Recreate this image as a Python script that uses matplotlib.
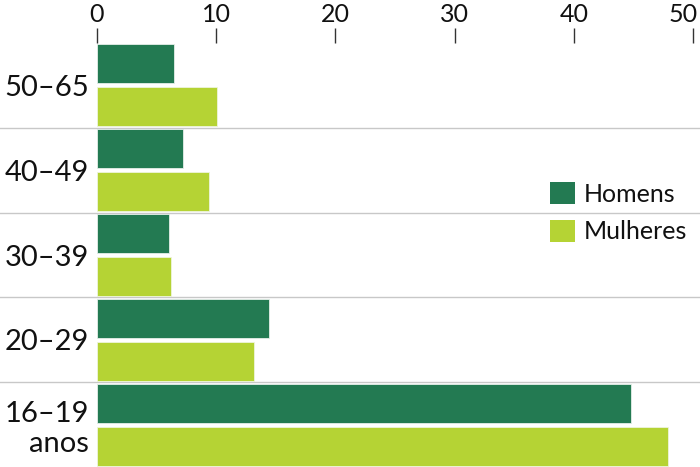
import numpy as np
import matplotlib.pyplot as plt
import matplotlib.transforms as mtransforms
from matplotlib.patches import Patch

# faixas etárias (de cima para baixo) e percentagens
faixas = ["50–65", "40–49", "30–39", "20–29", "16–19\nanos"]
homens = [6.5, 7.2, 6.0, 14.4, 44.8]
mulheres = [10.1, 9.4, 6.2, 13.2, 47.9]
ticks_x = [0, 10, 20, 30, 40, 50]

cor_h = "#237a52"
cor_m = "#b5d334"

plt.rcParams['font.family'] = ['Lato', 'DejaVu Sans']
plt.rcParams['text.color'] = '#111111'

fig = plt.figure(figsize=(7, 4.67), dpi=100)
ax = fig.add_axes([97/700, 0, 596/700, 1 - 43/467])

y = np.arange(len(faixas))
ax.barh(y - 0.253, homens, height=0.46, color=cor_h, edgecolor="#e6efe9", linewidth=0.6)
ax.barh(y + 0.253, mulheres, height=0.46, color=cor_m, edgecolor="#eef5dc", linewidth=0.6)

ax.set_xlim(0, 50)
ax.set_ylim(len(faixas) - 0.5, -0.5)
ax.set_xticks(ticks_x)
ax.xaxis.tick_top()
ax.tick_params(axis='x', direction='out', length=11, width=1, color="#333333",
               labelsize=18, labelcolor='#111111', pad=1)
# o último rótulo fica um pouco para dentro
ult = ax.get_xticklabels()[-1]
ult.set_transform(ult.get_transform() + mtransforms.ScaledTranslation(-10/100, 0, fig.dpi_scale_trans))

ax.set_yticks(y)
ax.set_yticklabels(faixas, fontsize=21, multialignment='right')
ax.tick_params(axis='y', length=0, pad=6, labelcolor='#111111')

for s in ax.spines.values():
    s.set_visible(False)

# separadores entre grupos
for b in y[:-1] + 0.5:
    ax.axhline(b, xmin=-97/596, xmax=603/596, color="#c8c8c8",
               linewidth=1, clip_on=False, zorder=0)

handles = [Patch(facecolor=cor_h, label="Homens"), Patch(facecolor=cor_m, label="Mulheres")]
fig.legend(handles=handles, loc='upper left', bbox_to_anchor=(540/700, 1 - 172/467),
           frameon=False, fontsize=18, handlelength=1.0, handleheight=1.0,
           handletextpad=0.35, labelspacing=0.55, borderaxespad=0)

fig.savefig("out.png", dpi=100)
